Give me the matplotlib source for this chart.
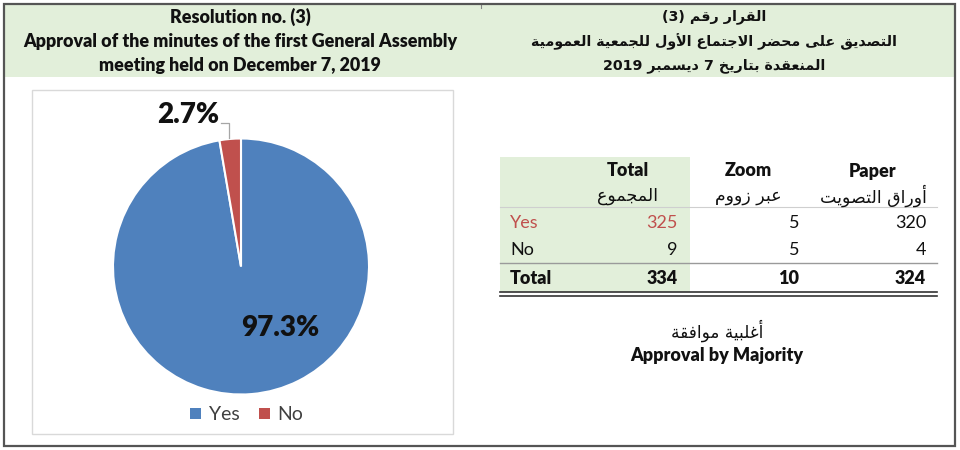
import matplotlib
matplotlib.use("Agg")
import matplotlib.pyplot as plt
from matplotlib.patches import Rectangle, Patch

# ---------------- data ----------------
categories = ["Yes", "No"]
paper_votes = [320, 4]
zoom_votes = [5, 5]
total_votes = [325, 9]
col_titles_en = ["Total", "Zoom", "Paper"]
col_titles_ar = ["المجموع", "عبر زووم", "أوراق التصويت"]
total_row_label = "Total"

title_en = ["Resolution no. (3)",
            "Approval of the minutes of the first General Assembly",
            "meeting held on December 7, 2019"]
title_ar = ["القرار رقم (3)",
            "التصديق على محضر الاجتماع الأول للجمعية العمومية",
            "المنعقدة بتاريخ 7 ديسمبر 2019"]
result_ar = "أغلبية موافقة"
result_en = "Approval by Majority"

BLUE = "#4f81bd"
RED = "#c0504d"
GREEN = "#e2efda"

# ------------- minimal Arabic shaping for display -------------
_F = {
    'ء': (0xFE80,), 'آ': (0xFE81, 0xFE82), 'أ': (0xFE83, 0xFE84), 'ؤ': (0xFE85, 0xFE86),
    'إ': (0xFE87, 0xFE88), 'ئ': (0xFE89, 0xFE8A, 0xFE8B, 0xFE8C), 'ا': (0xFE8D, 0xFE8E),
    'ب': (0xFE8F, 0xFE90, 0xFE91, 0xFE92), 'ة': (0xFE93, 0xFE94),
    'ت': (0xFE95, 0xFE96, 0xFE97, 0xFE98), 'ث': (0xFE99, 0xFE9A, 0xFE9B, 0xFE9C),
    'ج': (0xFE9D, 0xFE9E, 0xFE9F, 0xFEA0), 'ح': (0xFEA1, 0xFEA2, 0xFEA3, 0xFEA4),
    'خ': (0xFEA5, 0xFEA6, 0xFEA7, 0xFEA8), 'د': (0xFEA9, 0xFEAA), 'ذ': (0xFEAB, 0xFEAC),
    'ر': (0xFEAD, 0xFEAE), 'ز': (0xFEAF, 0xFEB0), 'س': (0xFEB1, 0xFEB2, 0xFEB3, 0xFEB4),
    'ش': (0xFEB5, 0xFEB6, 0xFEB7, 0xFEB8), 'ص': (0xFEB9, 0xFEBA, 0xFEBB, 0xFEBC),
    'ض': (0xFEBD, 0xFEBE, 0xFEBF, 0xFEC0), 'ط': (0xFEC1, 0xFEC2, 0xFEC3, 0xFEC4),
    'ظ': (0xFEC5, 0xFEC6, 0xFEC7, 0xFEC8), 'ع': (0xFEC9, 0xFECA, 0xFECB, 0xFECC),
    'غ': (0xFECD, 0xFECE, 0xFECF, 0xFED0), 'ف': (0xFED1, 0xFED2, 0xFED3, 0xFED4),
    'ق': (0xFED5, 0xFED6, 0xFED7, 0xFED8), 'ك': (0xFED9, 0xFEDA, 0xFEDB, 0xFEDC),
    'ل': (0xFEDD, 0xFEDE, 0xFEDF, 0xFEE0), 'م': (0xFEE1, 0xFEE2, 0xFEE3, 0xFEE4),
    'ن': (0xFEE5, 0xFEE6, 0xFEE7, 0xFEE8), 'ه': (0xFEE9, 0xFEEA, 0xFEEB, 0xFEEC),
    'و': (0xFEED, 0xFEEE), 'ى': (0xFEEF, 0xFEF0), 'ي': (0xFEF1, 0xFEF2, 0xFEF3, 0xFEF4),
}
_LAMALEF = {'آ': (0xFEF5, 0xFEF6), 'أ': (0xFEF7, 0xFEF8), 'إ': (0xFEF9, 0xFEFA), 'ا': (0xFEFB, 0xFEFC)}


def _shape_word(w):
    out = []
    i = 0
    n = len(w)
    prev_joins = False
    while i < n:
        c = w[i]
        if c == 'ل' and i + 1 < n and w[i + 1] in _LAMALEF:
            forms = _LAMALEF[w[i + 1]]
            out.append(chr(forms[1] if prev_joins else forms[0]))
            prev_joins = False
            i += 2
            continue
        if c in _F:
            forms = _F[c]
            nxt = w[i + 1] if i + 1 < n else None
            dual = len(forms) == 4
            joins_next = dual and nxt is not None and nxt in _F
            if prev_joins and joins_next:
                ch = forms[3]
            elif prev_joins:
                ch = forms[1] if len(forms) > 1 else forms[0]
            elif joins_next:
                ch = forms[2]
            else:
                ch = forms[0]
            out.append(chr(ch))
            prev_joins = dual
        else:
            out.append(c)
            prev_joins = False
        i += 1
    s = "".join(out)
    if any(ch in _F for ch in w):
        s = s[::-1]
    return s


def ar(text):
    words = text.split(" ")
    return " ".join(_shape_word(w) for w in reversed(words))


# ---------------- figure ----------------
LAT = ["Lato", "DejaVu Sans"]
plt.rcParams['font.family'] = LAT

fig = plt.figure(figsize=(9.6, 4.5), dpi=100)
bg = fig.add_axes([0, 0, 1, 1])
bg.set_xlim(0, 960)
bg.set_ylim(450, 0)
bg.axis("off")

# header band and outer frame
bg.add_patch(Rectangle((4, 4), 951, 73, facecolor=GREEN, edgecolor="none", zorder=0))
bg.add_patch(Rectangle((4, 4), 951, 442, facecolor="none", edgecolor="#555555", lw=1.6, zorder=3))
bg.plot([481, 481], [4, 8], color="#888888", lw=0.8)

# header texts
hy = [17, 42, 66]
for y, t in zip(hy, title_en):
    bg.text(240, y, t, ha="center", va="center", fontsize=12.9, fontweight="heavy", color="#111111")
for y, t in zip(hy, title_ar):
    bg.text(714, y, ar(t), ha="center", va="center", fontsize=10.3, fontweight="bold",
            color="#111111", family=["DejaVu Sans"])

# chart frame
bg.add_patch(Rectangle((32, 90), 421, 344, facecolor="white", edgecolor="#d9d9d9", lw=1.0, zorder=1))

# ---------------- pie ----------------
cx, cy, r = 241, 266.5, 128
pax = fig.add_axes([(cx - r) / 960, (450 - cy - r) / 450, 2 * r / 960, 2 * r / 450])
wedges, _ = pax.pie(total_votes, colors=[BLUE, RED], startangle=90, counterclock=False,
                    wedgeprops=dict(edgecolor="white", linewidth=1.5))
pax.set_xlim(-1, 1)
pax.set_ylim(-1, 1)
pax.set_aspect("auto")
pax.axis("off")

tot = sum(total_votes)
pcts = [v / tot * 100 for v in total_votes]
pax.text(0.305, -0.48, f"{pcts[0]:.1f}%", ha="center", va="center", fontsize=20,
         fontweight="heavy", color="#111111", clip_on=False)
pax.text(-0.41, 1.18, f"{pcts[1]:.1f}%", ha="center", va="center", fontsize=20,
         fontweight="heavy", color="#111111", clip_on=False)
pax.plot([-0.16, -0.09, -0.09], [1.12, 1.12, 1.005], color="#a6a6a6", lw=0.9, clip_on=False)

handles = [Patch(facecolor=BLUE, edgecolor="none"), Patch(facecolor=RED, edgecolor="none")]
bg.legend(handles, categories, loc="center", bbox_to_anchor=(247 / 960, 1 - 415 / 450),
          bbox_transform=fig.transFigure, ncol=2, frameon=False, fontsize=14,
          handlelength=0.55, handleheight=0.55, handletextpad=0.4, columnspacing=1.0,
          labelcolor="#404040")

# ---------------- table ----------------
bg.add_patch(Rectangle((500, 157), 190, 135, facecolor=GREEN, edgecolor="none", zorder=0))
col_right = [678, 799, 926]
col_center = [628, 748, 873]
data_cols = [total_votes, zoom_votes, paper_votes]
for xc, en, a in zip(col_center, col_titles_en, col_titles_ar):
    bg.text(xc, 171, en, ha="center", va="center", fontsize=13, fontweight="heavy", color="#111111")
    bg.text(xc, 196, ar(a), ha="center", va="center", fontsize=12.5, color="#111111",
            family=["DejaVu Sans"])

row_y = [223, 250]
for ri, (cat, y) in enumerate(zip(categories, row_y)):
    color = RED if ri == 0 else "#111111"
    bg.text(510, y, cat, ha="left", va="center", fontsize=13, color=color)
    for ci, (xr, col) in enumerate(zip(col_right, data_cols)):
        c = RED if (ri == 0 and ci == 0) else "#111111"
        bg.text(xr, y, f"{col[ri]}", ha="right", va="center", fontsize=13, color=c)

ty = 278
bg.text(510, ty, total_row_label, ha="left", va="center", fontsize=13, fontweight="heavy", color="#111111")
for xr, col in zip(col_right, data_cols):
    bg.text(xr, ty, f"{sum(col)}", ha="right", va="center", fontsize=13, fontweight="heavy", color="#111111")

bg.plot([500, 937], [207, 207], color="#cfcfcf", lw=0.8)
bg.plot([500, 937], [263, 263], color="#9a9a9a", lw=1.0)
bg.plot([500, 937], [292, 292], color="#333333", lw=1.2)
bg.plot([500, 937], [295.5, 295.5], color="#333333", lw=1.2)

# result
bg.text(717, 331, ar(result_ar), ha="center", va="center", fontsize=12.2, color="#111111",
        family=["DejaVu Sans"])
bg.text(717, 356, result_en, ha="center", va="center", fontsize=13, fontweight="heavy", color="#111111")

fig.savefig("out.png", dpi=100)
